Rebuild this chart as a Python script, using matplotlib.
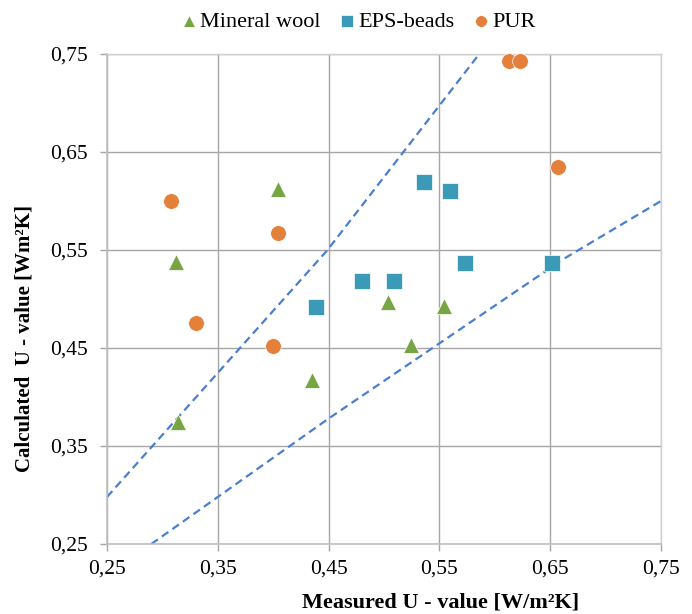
import matplotlib
matplotlib.use("Agg")
import matplotlib.pyplot as plt
from matplotlib.ticker import FixedLocator, FuncFormatter

plt.rcParams['font.family'] = ['Liberation Serif', 'DejaVu Serif']

# data
wool_x = [0.312, 0.314, 0.404, 0.435, 0.504, 0.524, 0.554]
wool_y = [0.538, 0.374, 0.612, 0.417, 0.497, 0.453, 0.493]

eps_x = [0.439, 0.480, 0.509, 0.536, 0.560, 0.573, 0.652]
eps_y = [0.492, 0.518, 0.518, 0.619, 0.610, 0.537, 0.537]

pur_x = [0.308, 0.330, 0.400, 0.404, 0.613, 0.623, 0.657]
pur_y = [0.600, 0.476, 0.452, 0.567, 0.743, 0.743, 0.635]

# the two dashed guide lines (slightly bent in the original)
upper_x = [0.25, 0.449, 0.586]
upper_y = [0.298, 0.55, 0.75]
lower_x = [0.29, 0.45, 0.663, 0.75]
lower_y = [0.25, 0.378, 0.5415, 0.600]

ticks = [0.25, 0.35, 0.45, 0.55, 0.65, 0.75]

fig = plt.figure(figsize=(6.92, 6.14), dpi=100)
ax = fig.add_axes([107/692, 1 - 544/614, 554/692, 490/614])

dash = (0, (3.6, 2.2))
ax.plot(upper_x, upper_y, color="#4a7fd0", linestyle=dash, linewidth=1.6, zorder=2)
ax.plot(lower_x, lower_y, color="#4a7fd0", linestyle=dash, linewidth=1.6, zorder=2)

ax.scatter(wool_x, wool_y, marker="^", s=130, color="#78a544", edgecolors="white", linewidths=0.5, label="Mineral wool", zorder=3)
ax.scatter(eps_x, eps_y, marker="s", s=125, color="#3a9ab8", edgecolors="white", linewidths=0.5, label="EPS-beads", zorder=3)
ax.scatter(pur_x, pur_y, marker="o", s=128, color="#e4803a", edgecolors="white", linewidths=0.5, label="PUR", zorder=3)

ax.set_xlim(0.25, 0.75)
ax.set_ylim(0.25, 0.75)
ax.xaxis.set_major_locator(FixedLocator(ticks))
ax.yaxis.set_major_locator(FixedLocator(ticks))
fmt = FuncFormatter(lambda v, p: f"{v:.2f}".replace(".", ","))
ax.xaxis.set_major_formatter(fmt)
ax.yaxis.set_major_formatter(fmt)
ax.tick_params(axis="both", labelsize=15.5, length=5, color="#a6a6a6", width=1)
ax.tick_params(axis="y", pad=9)
ax.tick_params(axis="x", pad=6)

ax.grid(True, color="#a6a6a6", linewidth=1)
ax.set_axisbelow(True)
for side in ["left", "bottom"]:
    ax.spines[side].set_color("#bfbfbf")
    ax.spines[side].set_linewidth(1.2)
for side in ["top", "right"]:
    ax.spines[side].set_color("#d0d0d0")
    ax.spines[side].set_linewidth(1)

fig.text(441/692, 1 - 602/614, "Measured U - value [W/m²K]", fontsize=16, fontweight="bold",
         ha="center", va="center")
fig.text(25/692, 1 - 339/614, "Calculated  U - value [Wm²K]", fontsize=15, fontweight="bold",
         ha="center", va="center", rotation=90)

fig.legend(loc="center", bbox_to_anchor=(358/692, 1 - 22/614), ncol=3, frameon=False, fontsize=16,
           handletextpad=0.1, columnspacing=0.8, markerscale=0.75, handlelength=0.8,
           borderpad=0, borderaxespad=0)

fig.savefig("out.png", dpi=100)
